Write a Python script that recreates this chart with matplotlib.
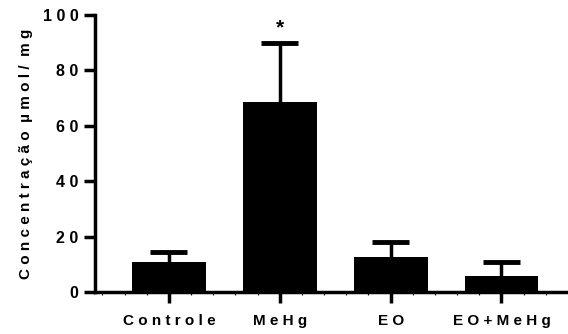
import numpy as np
import matplotlib
matplotlib.use("Agg")
import matplotlib.pyplot as plt

groups = ["Controle", "MeHg", "EO", "EO+MeHg"]
means = [10.8, 68.6, 12.6, 5.8]
sem = [3.6, 21.4, 5.4, 5.0]
y_ticks = [0, 20, 40, 60, 80, 100]

plt.rcParams["font.family"] = ["Liberation Sans", "DejaVu Sans"]
plt.rcParams["font.weight"] = "bold"


def spaced(s):
    # wide letter spacing, like the Prism export
    return " ".join(s).replace("   ", "  ")


W, H = 568, 334
fig = plt.figure(figsize=(W / 100, H / 100), dpi=100)
ax = fig.add_axes([95 / W, 42 / H, (W - 95) / W, 277 / H])

x = np.arange(len(groups))
m = np.array(means)
top = m + np.array(sem)
ax.bar(x, m, width=0.667, color="black", zorder=2)
# one-sided error bars (mean + SEM)
ax.vlines(x, m, top, color="black", linewidth=2.5, zorder=1)
ax.hlines(top, x - 0.167, x + 0.167, color="black", linewidth=3.5, zorder=1)
ax.text(x[1], 93.5, "*", ha="center", va="baseline",
        fontsize=15, fontweight="bold")

ax.set_xlim(-0.667, 3.6)
ax.set_ylim(0, 100)
ax.set_yticks(y_ticks)
ax.set_yticklabels([spaced(str(t)) for t in y_ticks])
ax.set_xticks(x)
ax.set_xticklabels([spaced(g) for g in groups])
ax.set_xticks(np.arange(-0.6, 3.6, 0.2), minor=True)

for side in ("top", "right"):
    ax.spines[side].set_visible(False)
for side in ("left", "bottom"):
    ax.spines[side].set_linewidth(2.5)

ax.tick_params(axis="both", which="major", length=8, width=2.5, pad=4)
ax.tick_params(axis="y", which="major", labelsize=11.5)
ax.tick_params(axis="x", which="major", labelsize=11, pad=8)
ax.tick_params(axis="x", which="minor", length=2, width=0.8)
for lbl in ax.get_xticklabels() + ax.get_yticklabels():
    lbl.set_fontweight("bold")

ax.set_ylabel(spaced("Concentração µmol/ mg"),
              fontsize=11, fontweight="bold", labelpad=7)

fig.savefig("out.png", dpi=100)
